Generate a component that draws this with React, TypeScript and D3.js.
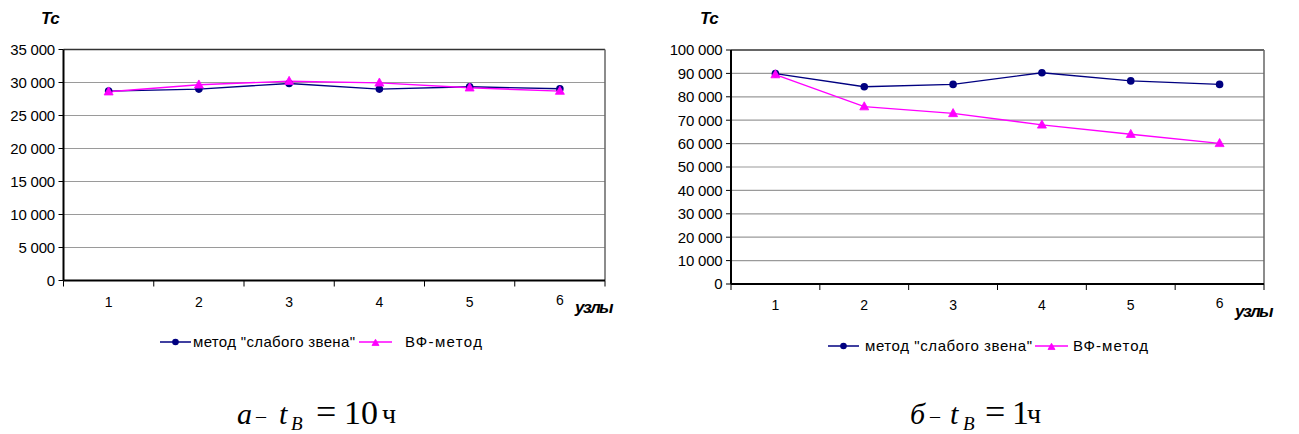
import React from "react";
import * as d3 from "d3";

const nodes = ["1", "2", "3", "4", "5", "6"];
const seriesNames = ['метод "слабого звена"', "ВФ-метод"];

// Chart a (t_B = 10 h)
const weakLinkA = [28700, 29000, 29850, 29000, 29350, 29050];
const vfMethodA = [28600, 29650, 30200, 29950, 29200, 28700];
const yTicksA = [0, 5000, 10000, 15000, 20000, 25000, 30000, 35000];

// Chart b (t_B = 1 h)
const weakLinkB = [89900, 84300, 85300, 90300, 86800, 85300];
const vfMethodB = [89500, 75800, 72900, 68000, 64000, 60100];
const yTicksB = [0, 10000, 20000, 30000, 40000, 50000, 60000, 70000, 80000, 90000, 100000];

const ru = d3.formatLocale({ decimal: ",", thousands: " ", grouping: [3], currency: ["", ""] });
const fmt = ru.format(",d");

const NAVY = "#000080";
const MAGENTA = "#FF00FF";
const AX_FONT = "Liberation Sans, Arial, sans-serif";
const SERIF = "Liberation Serif, Times New Roman, serif";

type PanelProps = {
  x0: number; x1: number; y0: number; y1: number;
  yMax: number; ticks: number[];
  s1: number[]; s2: number[];
  tcX: number; uzlyX: number; uzlyY: number; labelY: number;
  legendX: number; legendY: number;
  lgText1: number; lgLen1: number; lgLine2: number; lgText2: number; lgLen2: number;
};

function Triangle({ cx, cy, size }: { cx: number; cy: number; size: number }) {
  const h = size * 0.9;
  return (
    <path
      d={`M${cx},${cy - h * 0.6} L${cx + size / 2},${cy + h * 0.4} L${cx - size / 2},${cy + h * 0.4} Z`}
      fill={MAGENTA}
      stroke={MAGENTA}
      strokeWidth={0.8}
    />
  );
}

function Panel(p: PanelProps) {
  const x = d3.scaleBand<string>().domain(nodes).range([p.x0, p.x1]);
  const y = d3.scaleLinear().domain([0, p.yMax]).range([p.y1, p.y0]);
  const cx = (d: string) => (x(d) as number) + x.bandwidth() / 2;
  const line = d3.line<number>().x((_, i) => cx(nodes[i])).y((v) => y(v));
  const bounds = [...nodes.map((n) => x(n) as number), p.x1];
  return (
    <g>
      {p.ticks.filter((t) => t !== 0 && t !== p.yMax).map((t) => (
        <line key={t} x1={p.x0} x2={p.x1} y1={y(t)} y2={y(t)} stroke="#9a9a9a" strokeWidth={1.2} />
      ))}
      <line x1={p.x0} x2={p.x1} y1={y(p.yMax)} y2={y(p.yMax)} stroke="#333" strokeWidth={1.5} />
      <line x1={p.x1} x2={p.x1} y1={p.y0} y2={p.y1} stroke="#666" strokeWidth={1.5} />
      <line x1={p.x0} x2={p.x0} y1={p.y0} y2={p.y1} stroke="#000" strokeWidth={2} />
      <line x1={p.x0} x2={p.x1} y1={p.y1} y2={p.y1} stroke="#000" strokeWidth={2} />
      {p.ticks.map((t) => (
        <g key={t}>
          <line x1={p.x0 - 5} x2={p.x0} y1={y(t)} y2={y(t)} stroke="#000" strokeWidth={1} />
          <text
            x={p.x0 - 8.5}
            y={y(t)}
            dy="0.36em"
            textAnchor="end"
            fontFamily={AX_FONT}
            fontSize={15}
            letterSpacing={-0.2}
            fill="#000"
          >
            {fmt(t)}
          </text>
        </g>
      ))}
      {bounds.map((b, i) => (
        <line key={i} x1={b} x2={b} y1={p.y1} y2={p.y1 + 6} stroke="#000" strokeWidth={1} />
      ))}
      {nodes.map((n, i) => (
        <text
          key={n}
          x={cx(n)}
          y={p.labelY - (i === 5 ? 2 : 0)}
          textAnchor="middle"
          fontFamily={AX_FONT}
          fontSize={14}
          fill="#000"
        >
          {n}
        </text>
      ))}
      <text x={p.tcX} y={24} fontFamily={AX_FONT} fontSize={17} fontWeight="bold" fontStyle="italic" letterSpacing={-0.5}>
        Tc
      </text>
      <text x={p.uzlyX} y={p.uzlyY} fontFamily={AX_FONT} fontSize={17} fontWeight="bold" fontStyle="italic" letterSpacing={-1.6}>
        узлы
      </text>
      <path d={line(p.s1) || ""} fill="none" stroke={NAVY} strokeWidth={1.4} />
      <path d={line(p.s2) || ""} fill="none" stroke={MAGENTA} strokeWidth={1.4} />
      {p.s1.map((v, i) => (
        <circle key={"c" + i} cx={cx(nodes[i])} cy={y(v)} r={3.8} fill={NAVY} />
      ))}
      {p.s2.map((v, i) => (
        <Triangle key={"t" + i} cx={cx(nodes[i])} cy={y(v)} size={9} />
      ))}
      <g transform={`translate(${p.legendX},${p.legendY})`}>
        <line x1={0} x2={31} y1={0} y2={0} stroke={NAVY} strokeWidth={1.5} />
        <circle cx={15.5} cy={0} r={3.3} fill={NAVY} />
        <text
          x={p.lgText1}
          y={0}
          dy="0.36em"
          fontFamily={AX_FONT}
          fontSize={15}
          textLength={p.lgLen1}
          lengthAdjust="spacing"
        >
          {seriesNames[0]}
        </text>
        <line x1={p.lgLine2} x2={p.lgLine2 + 33} y1={0} y2={0} stroke={MAGENTA} strokeWidth={1.5} />
        <Triangle cx={p.lgLine2 + 16.5} cy={1} size={7} />
        <text
          x={p.lgText2}
          y={0}
          dy="0.36em"
          fontFamily={AX_FONT}
          fontSize={15}
          textLength={p.lgLen2}
          lengthAdjust="spacing"
        >
          {seriesNames[1]}
        </text>
      </g>
    </g>
  );
}

type CapPos = { a: number; dash: number; t: number; b: number; eq: number; num: number; ch: number };

function Caption({ pos, prefix, value }: { pos: CapPos; prefix: string; value: string }) {
  const base = 424;
  return (
    <g fontFamily={SERIF} fill="#000">
      <text x={pos.a} y={base} fontSize={30} fontStyle="italic">{prefix}</text>
      <text x={pos.dash} y={base - 1} fontSize={20}>–</text>
      <text x={pos.t} y={base} fontSize={30} fontStyle="italic">t</text>
      <text x={pos.b} y={base + 6} fontSize={19} fontStyle="italic">B</text>
      <text x={pos.eq} y={base} fontSize={36}>=</text>
      <text x={pos.num} y={base} fontSize={34}>{value}</text>
      <text x={pos.ch} y={base - 1} fontSize={28}>ч</text>
    </g>
  );
}

export default function App() {
  return (
    <svg
      width={1299}
      height={434}
      style={{ position: "absolute", left: 0, top: 0, background: "#fff" }}
    >
      <rect width={1299} height={434} fill="#fff" />
      <Panel
        x0={63.5} x1={605} y0={49.5} y1={280.5}
        yMax={35000} ticks={yTicksA}
        s1={weakLinkA} s2={vfMethodA}
        tcX={41} uzlyX={575} uzlyY={313} labelY={306.5}
        legendX={160} legendY={342}
        lgText1={33} lgLen1={162} lgLine2={199} lgText2={245} lgLen2={77}
      />
      <Panel
        x0={731} x1={1264} y0={50} y1={284}
        yMax={100000} ticks={yTicksB}
        s1={weakLinkB} s2={vfMethodB}
        tcX={700} uzlyX={1235} uzlyY={317} labelY={309.5}
        legendX={828} legendY={346}
        lgText1={37} lgLen1={167} lgLine2={207} lgText2={245} lgLen2={75}
      />
      <Caption pos={{ a: 237, dash: 256, t: 279, b: 291, eq: 316, num: 344, ch: 382 }} prefix="а" value="10" />
      <Caption pos={{ a: 910, dash: 930, t: 950, b: 963, eq: 985, num: 1012, ch: 1027 }} prefix="б" value="1" />
    </svg>
  );
}
